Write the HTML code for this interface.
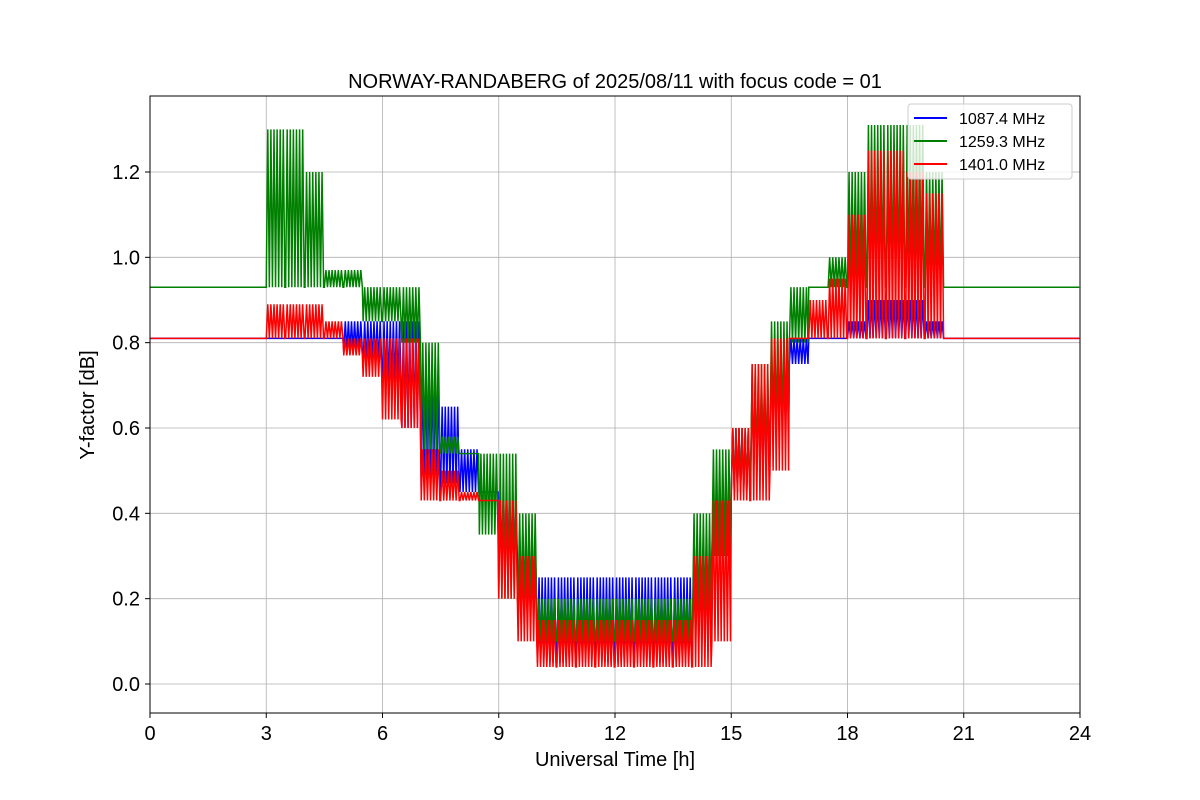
<!DOCTYPE html>
<html><head><meta charset="utf-8"><style>
body{margin:0;background:#fff;}
svg{display:block;font-family:"Liberation Sans","DejaVu Sans",sans-serif;}
</style></head><body>
<svg id="chart" width="1200" height="800" viewBox="0 0 1200 800" xmlns="http://www.w3.org/2000/svg">
<rect width="1200" height="800" fill="#fff"/>
<text x="615" y="88" font-size="20" text-anchor="middle">NORWAY-RANDABERG of 2025/08/11 with focus code = 01</text>
<g id="grid"></g>
<g id="series"></g>
<rect x="150" y="96" width="930" height="617" fill="none" stroke="#000" stroke-width="1"/>
<g id="ticks"></g>
<text x="615" y="766" font-size="20" text-anchor="middle">Universal Time [h]</text>
<text transform="translate(94,405) rotate(-90)" font-size="20" text-anchor="middle">Y-factor [dB]</text>
<g>
<rect x="908" y="104" width="164" height="75" rx="3" fill="#fff" fill-opacity="0.8" stroke="#ccc"/>
<g><line x1="914" y1="118" x2="947" y2="118" stroke="blue" stroke-width="2"/><text x="959" y="124" font-size="16">1087.4 MHz</text></g>
<g><line x1="914" y1="141" x2="947" y2="141" stroke="green" stroke-width="2"/><text x="959" y="147" font-size="16">1259.3 MHz</text></g>
<g><line x1="914" y1="164" x2="947" y2="164" stroke="red" stroke-width="2"/><text x="959" y="170" font-size="16">1401.0 MHz</text></g>
</g>
</svg>
<script>
const xTicks=[0,3,6,9,12,15,18,21,24];
const yTicks=[0.0,0.2,0.4,0.6,0.8,1.0,1.2];
const seriesNames=["1087.4 MHz","1259.3 MHz","1401.0 MHz"];
// envelopes per 0.5 h bin (48 bins)
const blueLo=[0.81,0.81,0.81,0.81,0.81,0.81,0.81,0.81,0.81,0.81,0.78,0.75,0.7,0.6,0.45,0.47,0.45,0.45,0.3,0.15,0.05,0.05,0.05,0.05,0.05,0.05,0.05,0.05,0.1,0.3,0.45,0.5,0.6,0.75,0.81,0.81,0.81,0.81,0.81,0.81,0.81,0.81,0.81,0.81,0.81,0.81,0.81,0.81];
const blueHi=[0.81,0.81,0.81,0.81,0.81,0.81,0.81,0.81,0.81,0.81,0.85,0.85,0.85,0.85,0.75,0.65,0.55,0.45,0.45,0.35,0.25,0.25,0.25,0.25,0.25,0.25,0.25,0.25,0.35,0.45,0.6,0.7,0.75,0.81,0.81,0.81,0.85,0.9,0.9,0.9,0.85,0.81,0.81,0.81,0.81,0.81,0.81,0.81];
const greenLo=[0.93,0.93,0.93,0.93,0.93,0.93,0.93,0.93,0.93,0.93,0.93,0.85,0.85,0.8,0.55,0.54,0.54,0.35,0.2,0.18,0.1,0.1,0.1,0.1,0.1,0.1,0.1,0.1,0.15,0.3,0.45,0.5,0.6,0.8,0.93,0.93,0.93,0.93,0.93,0.93,0.93,0.93,0.93,0.93,0.93,0.93,0.93,0.93];
const greenHi=[0.93,0.93,0.93,0.93,0.93,0.93,1.3,1.3,1.2,0.97,0.97,0.93,0.93,0.93,0.8,0.58,0.54,0.54,0.54,0.4,0.2,0.2,0.2,0.2,0.2,0.2,0.2,0.2,0.4,0.55,0.6,0.75,0.85,0.93,0.93,1.0,1.2,1.31,1.31,1.31,1.2,0.93,0.93,0.93,0.93,0.93,0.93,0.93];
const redLo=[0.81,0.81,0.81,0.81,0.81,0.81,0.81,0.81,0.81,0.81,0.77,0.72,0.62,0.6,0.43,0.43,0.43,0.43,0.2,0.1,0.04,0.04,0.04,0.04,0.04,0.04,0.04,0.04,0.04,0.1,0.43,0.43,0.5,0.81,0.81,0.81,0.81,0.81,0.81,0.81,0.81,0.81,0.81,0.81,0.81,0.81,0.81,0.81];
const redHi=[0.81,0.81,0.81,0.81,0.81,0.81,0.89,0.89,0.89,0.85,0.81,0.81,0.81,0.81,0.55,0.5,0.45,0.43,0.43,0.3,0.15,0.15,0.15,0.15,0.15,0.15,0.15,0.15,0.3,0.43,0.6,0.75,0.81,0.81,0.9,0.95,1.1,1.25,1.25,1.2,1.15,0.81,0.81,0.81,0.81,0.81,0.81,0.81];

const NS="http://www.w3.org/2000/svg";
const X0=150,X1=1080,Y0=684,YSC=426.67;
function xs(h){return X0+h/24*(X1-X0);}
function ys(v){return Y0-v*YSC;}
const grid=document.getElementById('grid'),ticks=document.getElementById('ticks'),ser=document.getElementById('series');
xTicks.forEach(t=>{
 const g=document.createElementNS(NS,'line');
 
 
 g.setAttribute('x1',xs(t));g.setAttribute('x2',xs(t));g.setAttribute('y1',96);g.setAttribute('y2',713);g.setAttribute('stroke','#b0b0b0');g.setAttribute('stroke-width','0.8');
 grid.appendChild(g);
 const k=document.createElementNS(NS,'line');
 
 
 k.setAttribute('x1',xs(t));k.setAttribute('x2',xs(t));k.setAttribute('y1',713);k.setAttribute('y2',718);k.setAttribute('stroke','#000');
 ticks.appendChild(k);
 const l=document.createElementNS(NS,'text');
 
 
 l.setAttribute('x',xs(t));l.setAttribute('y',740);l.setAttribute('font-size','20');l.setAttribute('text-anchor','middle');l.textContent=t;
 ticks.appendChild(l);
});
yTicks.forEach(t=>{
 const g=document.createElementNS(NS,'line');
 
 
 g.setAttribute('x1',150);g.setAttribute('x2',1080);g.setAttribute('y1',ys(t));g.setAttribute('y2',ys(t));g.setAttribute('stroke','#b0b0b0');g.setAttribute('stroke-width','0.8');
 grid.appendChild(g);
 const k=document.createElementNS(NS,'line');
 
 
 k.setAttribute('x1',145);k.setAttribute('x2',150);k.setAttribute('y1',ys(t));k.setAttribute('y2',ys(t));k.setAttribute('stroke','#000');
 ticks.appendChild(k);
 const l=document.createElementNS(NS,'text');
 
 
 l.setAttribute('x',140);l.setAttribute('y',ys(t)+7);l.setAttribute('font-size','20');l.setAttribute('text-anchor','end');l.textContent=t.toFixed(1);
 ticks.appendChild(l);
});
function drawSeries(lo,hi,color,name){
 let d='';const step=0.04;
 for(let i=0;i<lo.length;i++){
  const n=Math.round(0.5/step);
  for(let j=0;j<n;j++){
   const h=i*0.5+j*step;
   const v=(j%2===0)?lo[i]:hi[i];
   d+=(d?'L':'M')+xs(h).toFixed(2)+','+ys(v).toFixed(2);
  }
 }
 const p=document.createElementNS(NS,'path');
 
 
 p.setAttribute('d',d);p.setAttribute('fill','none');p.setAttribute('stroke',color);p.setAttribute('stroke-width','1.5');
 ser.appendChild(p);
}
drawSeries(blueLo,blueHi,'blue','series-1087-mhz');
drawSeries(greenLo,greenHi,'green','series-1259-mhz');
drawSeries(redLo,redHi,'red','series-1401-mhz');
</script>
</body></html>
